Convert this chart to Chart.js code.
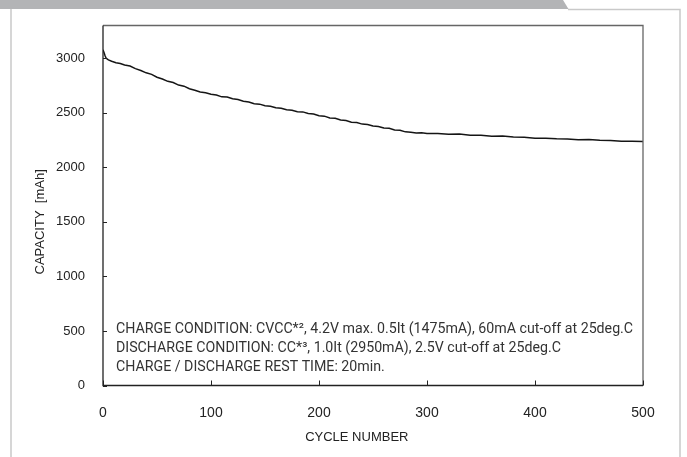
<!DOCTYPE html>
<html>
<head>
<meta charset="utf-8">
<script src="https://cdn.jsdelivr.net/npm/chart.js@4"></script>
<style>
  html, body { margin: 0; padding: 0; background: #fff; }
  canvas { display: block; }
</style>
</head>
<body>
<canvas id="cycleChart" width="687" height="457"></canvas>
<script>
/* ── Data ── */
const cycles = [0, 1, 2, 3, 5, 8, 12, 16, 20,
  25, 30, 35, 40, 45, 50, 55, 60, 65, 70, 75, 80, 85, 90, 95, 100,
  105, 110, 115, 120, 125, 130, 135, 140, 145, 150, 155, 160, 165, 170, 175, 180,
  185, 190, 195, 200, 205, 210, 215, 220, 225, 230, 235, 240, 245, 250, 255, 260,
  265, 270, 275, 280, 285, 290, 295, 300,
  310, 320, 330, 340, 350, 360, 370, 380, 390, 400, 410, 420, 430, 440, 450, 460,
  470, 480, 490, 500];
const capacity = [3078, 3050, 3020, 3000, 2985, 2972, 2958, 2952, 2938,
  2928, 2905, 2888, 2866, 2852, 2826, 2810, 2788, 2777, 2754, 2744, 2720, 2707, 2690, 2684, 2670,
  2662, 2646, 2644, 2628, 2621, 2606, 2598, 2582, 2579, 2564, 2560, 2546, 2541, 2528, 2523, 2510,
  2508, 2493, 2488, 2472, 2469, 2453, 2449, 2434, 2429, 2414, 2411, 2396, 2393, 2378, 2375, 2360,
  2358, 2343, 2339, 2325, 2322, 2315, 2316, 2311,
  2309, 2303, 2306, 2295, 2294, 2285, 2287, 2277, 2276, 2267, 2266, 2261, 2259, 2253, 2254, 2247,
  2245, 2239, 2240, 2236];
const xTicks = [0, 100, 200, 300, 400, 500];
const yTicks = [0, 500, 1000, 1500, 2000, 2500, 3000];
const xTitle = "CYCLE NUMBER";
const yTitle = "CAPACITY  [mAh]";
const notes = [
  "CHARGE CONDITION: CVCC*\u00B2, 4.2V max. 0.5It (1475mA), 60mA cut-off at 25deg.C",
  "DISCHARGE CONDITION: CC*\u00B3, 1.0It (2950mA), 2.5V cut-off at 25deg.C",
  "CHARGE / DISCHARGE REST TIME: 20min."
];

const SANS = "'Liberation Sans', Arial, sans-serif";

/* ── Page frame, box, inner ticks, titles and notes ── */
const framePlugin = {
  id: "frame",
  beforeDraw(chart) {
    const ctx = chart.ctx;
    ctx.save();
    // grey header strip with the slanted end
    ctx.fillStyle = "#b3b4b6";
    ctx.beginPath();
    ctx.moveTo(0, 0);
    ctx.lineTo(563, 0);
    ctx.lineTo(568.5, 9);
    ctx.lineTo(0, 9);
    ctx.closePath();
    ctx.fill();
    // light page border
    ctx.strokeStyle = "#c9c9c9";
    ctx.lineWidth = 1.5;
    ctx.beginPath();
    ctx.moveTo(11, 9);
    ctx.lineTo(11, 457);
    ctx.moveTo(568, 9.5);
    ctx.lineTo(680, 9.5);
    ctx.lineTo(680, 457);
    ctx.stroke();
    ctx.restore();
  },
  afterDatasetsDraw(chart) {
    const { ctx, chartArea: a, scales: { x, y } } = chart;
    ctx.save();
    // plot box
    ctx.lineWidth = 1.3;
    ctx.strokeStyle = "#666";
    ctx.beginPath();
    ctx.moveTo(a.left, a.top);
    ctx.lineTo(a.right, a.top);
    ctx.lineTo(a.right, a.bottom);
    ctx.stroke();
    ctx.strokeStyle = "#222";
    ctx.beginPath();
    ctx.moveTo(a.right, a.bottom);
    ctx.lineTo(a.left, a.bottom);
    ctx.lineTo(a.left, a.top);
    ctx.stroke();
    // inward tick marks
    ctx.lineWidth = 1;
    ctx.beginPath();
    xTicks.forEach(v => {
      const px = Math.round(x.getPixelForValue(v)) + 0.5;
      ctx.moveTo(px, a.bottom);
      ctx.lineTo(px, a.bottom - 5);
    });
    yTicks.forEach(v => {
      const py = Math.round(y.getPixelForValue(v)) + 0.5;
      ctx.moveTo(a.left, py);
      ctx.lineTo(a.left + 4, py);
    });
    ctx.stroke();
    // axis titles
    ctx.fillStyle = "#222";
    ctx.textAlign = "center";
    ctx.textBaseline = "middle";
    ctx.font = "13px " + SANS;
    ctx.fillText(xTitle, x.getPixelForValue(235), 437);
    ctx.save();
    ctx.translate(40, y.getPixelForValue(1500));
    ctx.rotate(-Math.PI / 2);
    ctx.fillText(yTitle, 0, 0);
    ctx.restore();
    // condition notes
    ctx.textAlign = "left";
    ctx.fillStyle = "#333";
    ctx.font = "14.2px Roboto, 'Noto Sans', sans-serif";
    notes.forEach((t, i) => ctx.fillText(t, 116, 329 + i * 19.3));
    ctx.restore();
  }
};

new Chart(document.getElementById("cycleChart"), {
  type: "line",
  data: {
    datasets: [{
      data: cycles.map((c, i) => ({ x: c, y: capacity[i] })),
      borderColor: "#151515",
      borderWidth: 1.5,
      pointRadius: 0,
      tension: 0,
      fill: false
    }]
  },
  options: {
    responsive: false,
    animation: false,
    devicePixelRatio: 1,
    layout: { padding: { top: 25.5, right: 44, left: 0, bottom: 0 } },
    plugins: { legend: { display: false }, tooltip: { enabled: false } },
    scales: {
      x: {
        type: "linear",
        min: 0,
        max: 500,
        afterBuildTicks: s => { s.ticks = xTicks.map(v => ({ value: v })); },
        afterFit: s => { s.height = 71.5; },
        grid: { display: false },
        border: { display: false },
        ticks: { padding: 11, color: "#222", font: { family: SANS, size: 14 },
                 callback: v => String(v) }
      },
      y: {
        min: 0,
        max: 3300,
        afterBuildTicks: s => { s.ticks = yTicks.map(v => ({ value: v })); },
        afterFit: s => { s.width = 103; },
        grid: { display: false },
        border: { display: false },
        ticks: { padding: 10, color: "#222", font: { family: SANS, size: 13 },
                 callback: v => String(v) }
      }
    }
  },
  plugins: [framePlugin]
});
</script>
</body>
</html>
